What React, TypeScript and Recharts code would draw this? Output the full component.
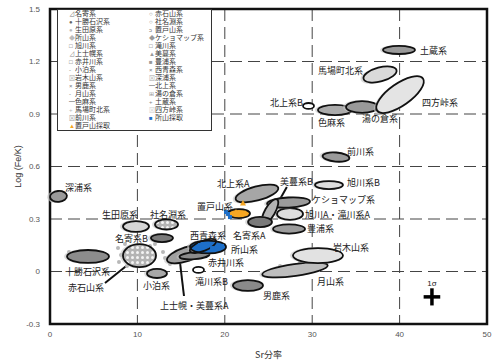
import React from "react"
import {
  ScatterChart,
  Scatter,
  XAxis,
  YAxis,
  CartesianGrid,
  ReferenceArea,
  ReferenceLine,
  ErrorBar
} from "recharts"

const W = 495
const H = 363
const MARGIN = { top: 9, right: 8, bottom: 0, left: 0 }
const Y_AXIS_W = 50
const X_AXIS_H = 39

const X_TICKS = [0, 10, 20, 30, 40, 50]
const Y_TICKS = [-0.3, 0, 0.3, 0.6, 0.9, 1.2, 1.5]

// pixels per data unit, used only for the ellipse radii
const PLOT_W = W - MARGIN.left - MARGIN.right - Y_AXIS_W
const PLOT_H = H - MARGIN.top - MARGIN.bottom - X_AXIS_H
const KX = PLOT_W / 50
const KY = PLOT_H / 1.8

const JP = "'Noto Sans CJK JP', 'Noto Sans', sans-serif"
const LAT = "'Liberation Sans', Arial, sans-serif"

// source groups: centre (Sr %, log Fe/K), spread and tilt
const groups = [
  { id: "fukaura", x: 0.97, y: 0.429, sx: 0.97, sy: 0.031, rot: 5 },
  { id: "tokachi", x: 4.35, y: 0.086, sx: 2.4, sy: 0.037, rot: 0 },
  { id: "akaishi", x: 10.24, y: 0.091, sx: 1.89, sy: 0.066, rot: 0 },
  { id: "ikutahara", x: 9.84, y: 0.257, sx: 1.49, sy: 0.031, rot: 0 },
  { id: "shanabuchi", x: 13.33, y: 0.269, sx: 1.32, sy: 0.029, rot: 0 },
  { id: "nayoroB", x: 12.81, y: 0.191, sx: 1.26, sy: 0.023, rot: 0 },
  { id: "kotomari", x: 12.24, y: -0.011, sx: 1.14, sy: 0.026, rot: 0 },
  { id: "kamishihoro", x: 15.68, y: 0.1, sx: 2.4, sy: 0.04, rot: 18 },
  { id: "bimanA", x: 16.53, y: 0.091, sx: 1.72, sy: 0.02, rot: 5 },
  { id: "tokoroyama", x: 18.08, y: 0.14, sx: 2.06, sy: 0.037, rot: 0 },
  { id: "nishiaomori", x: 17.5, y: 0.146, sx: 1.6, sy: 0.029, rot: 22 },
  { id: "takikawaB", x: 16.99, y: 0.009, sx: 0.63, sy: 0.017, rot: 0 },
  { id: "oga", x: 22.65, y: -0.08, sx: 1.72, sy: 0.031, rot: 0 },
  { id: "gassan", x: 28.03, y: 0.009, sx: 3.78, sy: 0.034, rot: 8 },
  { id: "iwaki", x: 30.66, y: 0.091, sx: 2.86, sy: 0.043, rot: 0 },
  { id: "toyoura", x: 27.35, y: 0.243, sx: 1.83, sy: 0.026, rot: 0 },
  { id: "asahikawaA", x: 27.46, y: 0.329, sx: 1.49, sy: 0.034, rot: 0 },
  { id: "keshomappu", x: 27.29, y: 0.394, sx: 2.46, sy: 0.029, rot: 3 },
  { id: "bimanB", x: 25.17, y: 0.343, sx: 1.6, sy: 0.029, rot: 60 },
  { id: "nayoroA", x: 24.03, y: 0.283, sx: 1.37, sy: 0.029, rot: 0 },
  { id: "oketo", x: 21.62, y: 0.331, sx: 1.26, sy: 0.026, rot: 0 },
  { id: "kitakamiA", x: 23.68, y: 0.446, sx: 2.52, sy: 0.04, rot: 15 },
  { id: "maekawa", x: 32.72, y: 0.654, sx: 1.54, sy: 0.026, rot: -5 },
  { id: "asahikawaB", x: 31.92, y: 0.494, sx: 1.6, sy: 0.023, rot: 0 },
  { id: "shikama", x: 32.61, y: 0.923, sx: 1.95, sy: 0.029, rot: 0 },
  { id: "yunokura", x: 35.7, y: 0.94, sx: 1.83, sy: 0.034, rot: 0 },
  { id: "kitakamiB", x: 29.58, y: 0.946, sx: 0.63, sy: 0.017, rot: 0 },
  { id: "shihoutouge", x: 40.05, y: 1.011, sx: 3.2, sy: 0.063, rot: 35 },
  { id: "babamachi", x: 37.76, y: 1.126, sx: 1.95, sy: 0.04, rot: 15 },
  { id: "dozou", x: 39.93, y: 1.266, sx: 1.83, sy: 0.023, rot: 0 }
]

const groupFill: Record<string, string> = {
  fukaura: "#9a9a9a",
  tokachi: "#8c8c8c",
  akaishi: "dots",
  ikutahara: "#d6d6d6",
  shanabuchi: "dots",
  nayoroB: "#7a7a7a",
  kotomari: "#a8a8a8",
  kamishihoro: "#a0a0a0",
  bimanA: "#8a8a8a",
  tokoroyama: "#1e6fc8",
  nishiaomori: "none",
  takikawaB: "#ffffff",
  oga: "#8a8a8a",
  gassan: "#bdbdbd",
  iwaki: "#e2e2e2",
  toyoura: "#9c9c9c",
  asahikawaA: "#dedede",
  keshomappu: "#9a9a9a",
  bimanB: "#b4b4b4",
  nayoroA: "#7a7a7a",
  oketo: "#f5a623",
  kitakamiA: "#a6a6a6",
  maekawa: "#9a9a9a",
  asahikawaB: "#dcdcdc",
  shikama: "#ababab",
  yunokura: "#999999",
  kitakamiB: "#ffffff",
  shihoutouge: "#e4e4e4",
  babamachi: "#dadada",
  dozou: "#9a9a9a"
}

// loose analyses outside the ellipses
const grayPoints = [
  { x: 7.78, y: 0.134 }, { x: 8.12, y: 0.094 }, { x: 7.89, y: 0.054 },
  { x: 8.58, y: 0.157 }, { x: 8.81, y: 0.031 }, { x: 2.17, y: 0.111 },
  { x: 2.4, y: 0.071 }, { x: 13.16, y: 0.077 }, { x: 12.93, y: 0.111 },
  { x: 13.73, y: 0.043 }, { x: 11.44, y: 0.146 }, { x: 12.01, y: 0.157 },
  { x: 28.6, y: 0.054 }, { x: 29.75, y: 0.037 }, { x: 26.32, y: 0.031 },
  { x: 0.11, y: 0.431 }, { x: 0.23, y: 0.409 }
]
const oketoSamples = [
  { x: 22.08, y: 0.391 }, { x: 21.28, y: 0.34 }, { x: 21.74, y: 0.329 }, { x: 22.31, y: 0.334 }
]
const tokoroSamples = [
  { x: 20.37, y: 0.329 }, { x: 20.59, y: 0.311 }, { x: 20.14, y: 0.34 },
  { x: 17.16, y: 0.151 }, { x: 18.54, y: 0.134 }, { x: 19.68, y: 0.146 }
]
const sigma = [{ x: 43.7, y: -0.145, ex: 0.95, ey: 0.049 }]

const labels = [
  { text: "深浦系", x: 1.72, y: 0.477 },
  { text: "十勝石沢系", x: 1.72, y: -0.003 },
  { text: "赤石山系", x: 2.06, y: -0.094 },
  { text: "生田原系", x: 5.95, y: 0.323 },
  { text: "社名淵系", x: 11.44, y: 0.323 },
  { text: "名寄系B", x: 7.44, y: 0.186 },
  { text: "小泊系", x: 10.64, y: -0.083 },
  { text: "上士幌・美蔓系A", x: 12.59, y: -0.197 },
  { text: "西青森系", x: 16.02, y: 0.203 },
  { text: "所山系", x: 20.71, y: 0.123 },
  { text: "赤井川系", x: 18.08, y: 0.049 },
  { text: "滝川系B", x: 16.59, y: -0.06 },
  { text: "男鹿系", x: 24.37, y: -0.14 },
  { text: "月山系", x: 30.55, y: -0.06 },
  { text: "岩木山系", x: 32.38, y: 0.134 },
  { text: "豊浦系", x: 29.4, y: 0.243 },
  { text: "旭川A・滝川系A", x: 29.18, y: 0.323 },
  { text: "ケショマップ系", x: 29.98, y: 0.409 },
  { text: "美蔓系B", x: 26.32, y: 0.511 },
  { text: "名寄系A", x: 20.94, y: 0.203 },
  { text: "置戸山系", x: 16.82, y: 0.369 },
  { text: "北上系A", x: 19.11, y: 0.5 },
  { text: "前川系", x: 33.98, y: 0.683 },
  { text: "旭川系B", x: 33.98, y: 0.506 },
  { text: "色麻系", x: 30.66, y: 0.849 },
  { text: "湯の倉系", x: 35.7, y: 0.871 },
  { text: "北上系B", x: 25.17, y: 0.963 },
  { text: "四方峠系", x: 42.56, y: 0.963 },
  { text: "馬場町北系", x: 30.66, y: 1.146 },
  { text: "土蔵系", x: 42.33, y: 1.26 }
]

const leaders = [
  [{ x: 6.29, y: -0.066 }, { x: 9.15, y: 0.049 }],
  [{ x: 14.87, y: 0.054 }, { x: 15.33, y: -0.14 }],
  [{ x: 27.1, y: 0.483 }, { x: 26.2, y: 0.403 }]
]

const legendLeft = [
  ["⊿", "名寄系", "#777"],
  ["●", "十勝石沢系", "#666"],
  ["●", "生田原系", "#bbb"],
  ["◆", "所山系", "#bbb"],
  ["□", "旭川系", "#666"],
  ["⊿", "上士幌系", "#888"],
  ["□", "赤井川系", "#666"],
  ["-", "小泊系", "#777"],
  ["⊠", "岩木山系", "#aaa"],
  ["×", "男鹿系", "#777"],
  ["-", "月山系", "#777"],
  ["━", "色麻系", "#888"],
  ["+", "馬場町北系", "#bbb"],
  ["⊠", "前川系", "#999"],
  ["▲", "置戸山採取", "#f5a623"]
]
const legendRight = [
  ["○", "赤石山系", "#777"],
  ["○", "社名淵系", "#777"],
  ["ɔ", "置戸山系", "#777"],
  ["◆", "ケショマップ系", "#999"],
  ["□", "滝川系", "#666"],
  ["▲", "美蔓系", "#999"],
  ["■", "豊浦系", "#999"],
  ["×", "西青森系", "#777"],
  ["⊠", "深浦系", "#aaa"],
  ["━", "北上系", "#888"],
  ["⊞", "湯の倉系", "#999"],
  ["+", "土蔵系", "#888"],
  ["⊠", "四方峠系", "#ccc"],
  ["■", "所山採取", "#1e6fc8"]
]

function EllipseShape(props: any) {
  const { cx, cy, payload } = props
  if (cx == null || cy == null) return null
  const rx = payload.sx * KX
  const ry = payload.sy * KY
  const fill = groupFill[payload.id] ?? "#999"
  const patId = "dots-" + payload.id
  const tf = `rotate(${-payload.rot} ${cx} ${cy})`
  const solid = fill !== "none" && fill !== "#ffffff"
  return (
    <g>
      {fill === "dots" && (
        <defs>
          <pattern id={patId} width={5} height={5} patternUnits="userSpaceOnUse">
            <rect width={5} height={5} fill="#b4b4b4" />
            <circle cx={2.5} cy={2.5} r={1.5} fill="#f4f4f4" />
          </pattern>
        </defs>
      )}
      {solid && (
        <ellipse cx={cx - 1.5} cy={cy} rx={rx + 1.5} ry={ry + 1} transform={tf} fill="#c4c4c4" opacity={0.6} />
      )}
      <ellipse
        cx={cx}
        cy={cy}
        rx={rx}
        ry={ry}
        transform={tf}
        fill={fill === "dots" ? `url(#${patId})` : fill}
        stroke="#111"
        strokeWidth={1.8}
      />
    </g>
  )
}

function LabelShape(props: any) {
  const { cx, cy, payload } = props
  if (cx == null || cy == null) return null
  return (
    <text x={cx} y={cy} dy="0.35em" fontSize={9} fontFamily={JP} fill="#222">
      {payload.text}
    </text>
  )
}

const dot = (color: string) => (p: any) =>
  p.cx == null ? null : <circle cx={p.cx} cy={p.cy} r={2} fill={color} />
const tri = (p: any) =>
  p.cx == null ? null : (
    <path d={`M${p.cx},${p.cy - 3}L${p.cx + 3},${p.cy + 2.5}L${p.cx - 3},${p.cy + 2.5}Z`} fill="#f5a623" />
  )
const sq = (p: any) =>
  p.cx == null ? null : <rect x={p.cx - 2} y={p.cy - 2} width={4} height={4} fill="#1e6fc8" />

// primary font with short metrics keeps each 8px row from overlapping; kanji fall back to Noto CJK
const LEGEND_FONT = "'Liberation Sans', 'Noto Sans CJK JP', sans-serif"

function LegendBox() {
  const row = (r: string[], i: number, left: number) => (
    <div
      key={r[1]}
      style={{
        position: "absolute",
        left,
        top: i * 8 - 0.5,
        height: 8,
        lineHeight: "8px",
        whiteSpace: "nowrap",
        fontFamily: LEGEND_FONT,
        fontSize: 7
      }}
    >
      <span style={{ color: r[2], fontSize: 6, display: "inline-block", width: 6 }}>{r[0]}</span>
      <span style={{ color: "#333" }}>{r[1]}</span>
    </div>
  )
  return (
    <div
      style={{
        position: "absolute",
        left: 57,
        top: 9,
        width: 155,
        height: 122,
        background: "#fff",
        border: "1.5px solid #333",
        boxSizing: "border-box"
      }}
    >
      {legendLeft.map((r, i) => row(r, i, 11))}
      {legendRight.map((r, i) => row(r, i, 91))}
    </div>
  )
}

export default function App() {
  return (
    <div style={{ position: "absolute", left: 0, top: 0, width: W, height: H, background: "#fff" }}>
      <ScatterChart width={W} height={H} margin={MARGIN}>
        <CartesianGrid stroke="#444" strokeDasharray="12 6" strokeWidth={1} />
        <XAxis
          type="number"
          dataKey="x"
          domain={[0, 50]}
          ticks={X_TICKS}
          height={X_AXIS_H}
          axisLine={false}
          tickLine={false}
          tickSize={0}
          tickMargin={7}
          tick={{ fontSize: 8, fill: "#555", fontFamily: LAT }}
          label={{ value: "Sr分率", position: "insideBottom", offset: 5, fontSize: 9, fill: "#333", fontFamily: JP }}
        />
        <YAxis
          type="number"
          dataKey="y"
          domain={[-0.3, 1.5]}
          ticks={Y_TICKS}
          width={Y_AXIS_W}
          axisLine={false}
          tickLine={false}
          tickSize={0}
          tickMargin={10}
          tick={{ fontSize: 8, fill: "#555", fontFamily: LAT }}
          label={{
            value: "Log (Fe/K)",
            angle: -90,
            position: "insideLeft",
            offset: 18,
            fontSize: 9,
            fill: "#333",
            fontFamily: LAT,
            style: { textAnchor: "middle" }
          }}
        />
        <Scatter data={grayPoints} shape={dot("#b8b8b8")} isAnimationActive={false} />
        <Scatter data={groups} shape={(p: any) => <EllipseShape {...p} />} isAnimationActive={false} />
        <Scatter data={oketoSamples} shape={tri} isAnimationActive={false} />
        <Scatter data={tokoroSamples} shape={sq} isAnimationActive={false} />
        {leaders.map((seg, i) => (
          <ReferenceLine key={i} segment={seg} stroke="#111" strokeWidth={2} />
        ))}
        <Scatter data={labels} shape={(p: any) => <LabelShape {...p} />} isAnimationActive={false} />
        <Scatter data={sigma} shape={() => null} isAnimationActive={false}>
          <ErrorBar dataKey="ex" direction="x" width={0} stroke="#000" strokeWidth={3.5} />
          <ErrorBar dataKey="ey" direction="y" width={0} stroke="#000" strokeWidth={3.5} />
        </Scatter>
        <Scatter
          data={[{ x: 43.7, y: -0.066, text: "1σ" }]}
          shape={(p: any) =>
            p.cx == null ? null : (
              <text x={p.cx} y={p.cy} dy="0.35em" textAnchor="middle" fontSize={8} fontFamily={LAT} fill="#222">
                {p.payload.text}
              </text>
            )
          }
          isAnimationActive={false}
        />
        <ReferenceArea x1={0} x2={50} y1={-0.3} y2={1.5} fill="none" stroke="#111" strokeWidth={2.5} ifOverflow="visible" />
      </ScatterChart>
      <LegendBox />
    </div>
  )
}
